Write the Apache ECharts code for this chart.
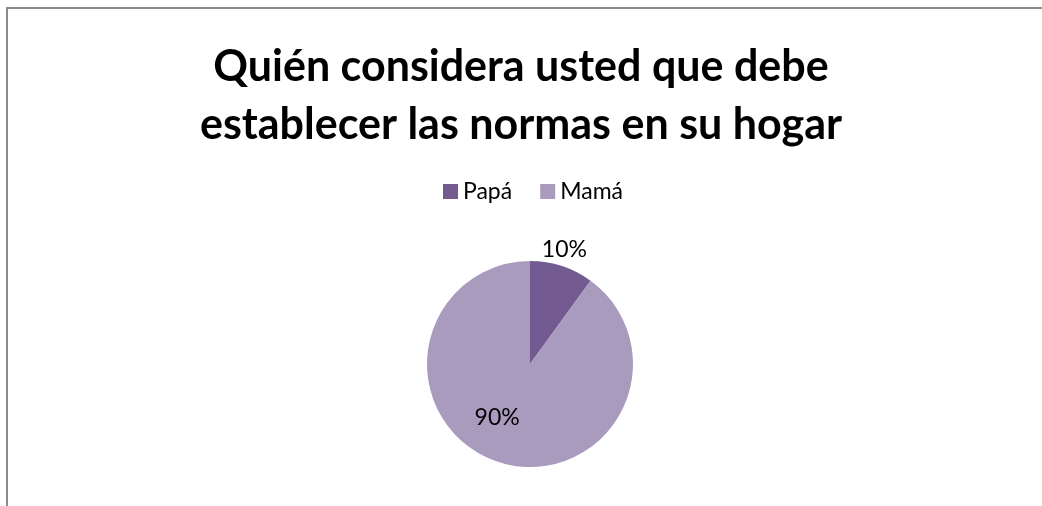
<!DOCTYPE html>
<html>
<head>
<meta charset="utf-8">
<script src="https://cdn.jsdelivr.net/npm/echarts@6/dist/echarts.min.js"></script>
<style>
  html, body { margin: 0; padding: 0; background: #fff; }
  #main { width: 1042px; height: 506px; }
</style>
</head>
<body>
<div id="main"></div>
<script>
var categories = ['Papá', 'Mamá'];
var values = [10, 90];
var colors = ['#735a90', '#a99bbe'];

var myChart = echarts.init(document.getElementById('main'));

// nudge labels to where Excel put them
var labelShift = [{ dx: -25, dy: -16 }, { dx: -16, dy: 2 }];

var option = {
    backgroundColor: '#fff',
    animation: false,
    title: {
        text: 'Quién considera usted que debe\nestablecer las normas en su hogar',
        left: 'center',
        top: 33,
        textStyle: {
            fontFamily: 'Lato',
            fontWeight: 'bold',
            fontSize: 43,
            lineHeight: 58,
            color: '#000'
        }
    },
    legend: {
        data: categories,
        top: 175,
        left: 438,
        itemWidth: 15,
        itemHeight: 15,
        itemGap: 28,
        icon: 'rect',
        textStyle: { fontFamily: 'Lato', fontSize: 23, color: '#000' }
    },
    graphic: [{
        type: 'polyline',
        shape: { points: [[1042, 8], [7, 8], [7, 506]] },
        style: { stroke: '#8c8c8c', lineWidth: 2, fill: null }
    }],
    series: [{
        type: 'pie',
        center: [530, 364],
        radius: 103,
        startAngle: 90,
        data: categories.map(function (name, i) {
            return {
                name: name,
                value: values[i],
                itemStyle: { color: colors[i] },
                label: i === 0
                    ? { position: 'outside' }
                    : { position: 'inside' }
            };
        }),
        label: {
            formatter: '{d}%',
            fontFamily: 'Lato',
            fontSize: 23,
            color: '#000'
        },
        labelLine: { show: false, length: 0, length2: 0 },
        labelLayout: function (params) {
            return labelShift[params.dataIndex];
        },
        emphasis: { disabled: true }
    }]
};

myChart.setOption(option);
</script>
</body>
</html>
